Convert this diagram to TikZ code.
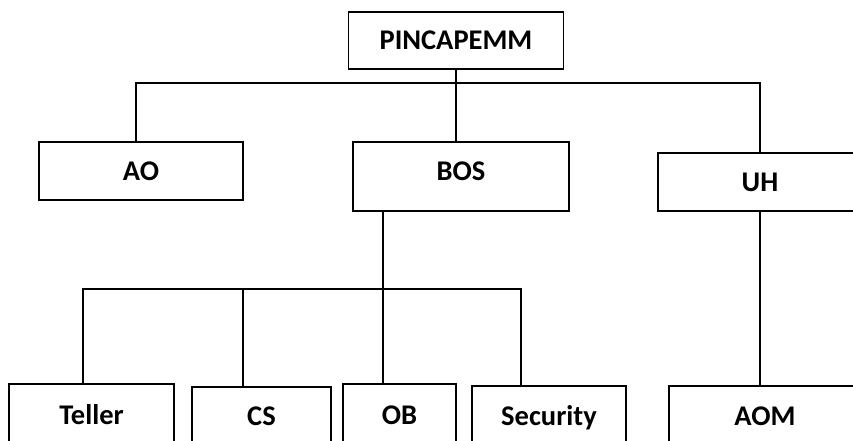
\documentclass[tikz,border=0pt]{standalone}
\usepackage{fontspec}
\setmainfont{Carlito}
\begin{document}
\begin{tikzpicture}[x=1pt,y=-1pt,
  orgbox/.style={draw, line width=1.8pt, rectangle, inner sep=0pt, align=center,
    text height=19pt, text depth=0.6pt,
    font=\fontsize{28.5}{32}\selectfont\bfseries},
  conn/.style={line width=1.8pt}]
\clip (0,0) rectangle (853,440);
\useasboundingbox (0,0) rectangle (853,440);
\fill[white] (0,0) rectangle (853,440);
% boxes
\node[orgbox, minimum width=215pt, minimum height=57pt] (pin) at (456,40.5) {PINCAPEMM};
\node[orgbox, minimum width=204pt, minimum height=58pt] (ao) at (141,171) {AO};
\node[orgbox, minimum width=216pt, minimum height=69pt, text depth=11.6pt] (bos) at (461,176.5) {BOS};
\node[orgbox, minimum width=204pt, minimum height=58pt] (uh) at (760,182) {UH};
\node[orgbox, minimum width=165pt, minimum height=62pt] (teller) at (91.5,415) {Teller};
\node[orgbox, minimum width=139pt, minimum height=59pt] (cs) at (261.5,416.5) {CS};
\node[orgbox, minimum width=113pt, minimum height=62pt] (ob) at (399.5,415) {OB};
\node[orgbox, minimum width=154pt, minimum height=60pt] (sec) at (549,416) {Security};
\node[orgbox, minimum width=192pt, minimum height=60pt] (aom) at (765,416) {AOM};
% junction coordinates
\coordinate (tl) at (136,83);
\coordinate (tr) at (760,83);
\coordinate (bl) at (83,289);
\coordinate (bc) at (243,289);
\coordinate (bx) at (383,289);
\coordinate (br) at (521,289);
% connectors
\draw[conn] (pin.south) -- (pin.south |- bos.north);
\draw[conn] (tl |- ao.north) -- (tl) -- (tr) -- (uh.north);
\draw[conn] (bx |- bos.south) -- (bx |- ob.north);
\draw[conn] (bl |- teller.north) -- (bl) -- (br) -- (br |- sec.north);
\draw[conn] (bc) -- (bc |- cs.north);
\draw[conn] (uh.south) -- (aom.north -| uh.south);
\end{tikzpicture}
\end{document}
